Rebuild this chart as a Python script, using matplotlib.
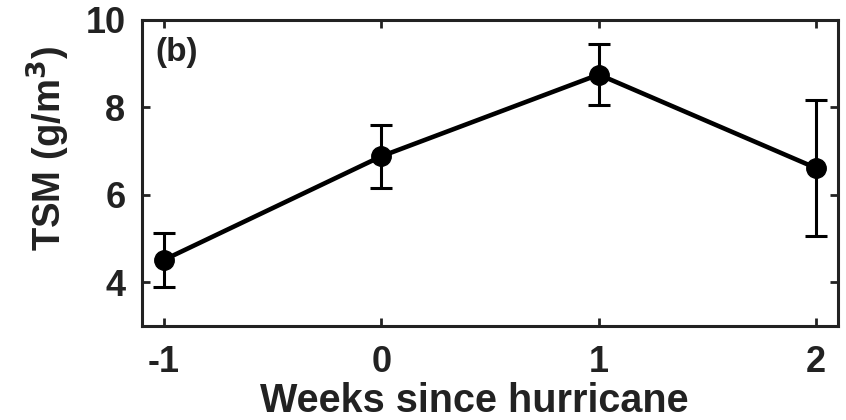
import matplotlib.pyplot as plt
import numpy as np

weeks = [-1, 0, 1, 2]
tsm = [4.51, 6.88, 8.75, 6.61]
tsm_err = [0.62, 0.72, 0.70, 1.56]

plt.rcParams['font.family'] = 'Liberation Sans'
plt.rcParams['font.weight'] = 'bold'
dark = '#222222'

fig = plt.figure(figsize=(8.46, 4.2), dpi=100)
ax = fig.add_axes([0.168, 0.224, 0.8225, 0.7286])

ax.errorbar(weeks, tsm, yerr=tsm_err, color='black', lw=3.3, marker='o', ms=14,
            elinewidth=2.2, capsize=8, capthick=2.2)

ax.set_xlim(-1.1, 2.1)
ax.set_ylim(3, 10)
ax.set_xticks(weeks)
ax.set_xticklabels(['-1', '0', '1', '2'])
ax.set_yticks([4, 6, 8, 10])

for s in ax.spines.values():
    s.set_linewidth(2.2)
    s.set_color(dark)
ax.tick_params(direction='in', length=6, width=2, colors=dark, labelsize=26,
               top=True, right=True)
ax.tick_params(axis='x', pad=14)
ax.tick_params(axis='y', pad=12)

ax.set_xlabel('Weeks since hurricane', fontsize=28.5, fontweight='bold', color=dark)
ax.xaxis.set_label_coords(0.478, -0.246)
ax.xaxis.label.set_va('center')
ax.set_ylabel(r'TSM (g/m$^\mathbf{3}$)', fontsize=27.5, fontweight='bold', color=dark)
ax.yaxis.set_label_coords(-0.135, 0.58)
ax.yaxis.label.set_va('center')

ax.text(0.019, 0.895, '(b)', transform=ax.transAxes, fontsize=24,
        fontweight='bold', color=dark, va='center', ha='left')

fig.savefig('out.png', dpi=100)
